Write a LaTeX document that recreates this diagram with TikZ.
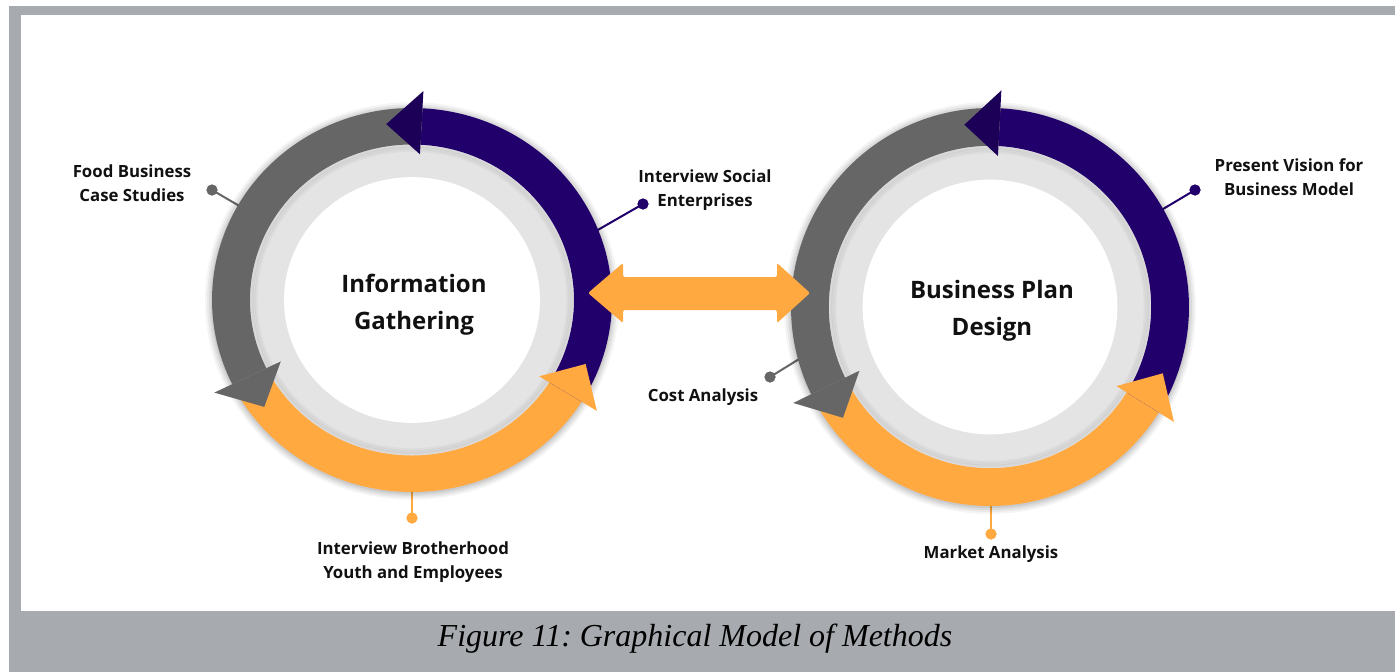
\documentclass[tikz,border=0pt]{standalone}
\usepackage{fontspec}
\setmainfont{Open Sans}
\newfontfamily\capfont{Liberation Serif}
\definecolor{framegray}{HTML}{A7AAAE}
\definecolor{pur}{HTML}{22006B}
\definecolor{purh}{HTML}{1C0058}
\definecolor{gry}{HTML}{666666}
\definecolor{org}{HTML}{FFA940}
\definecolor{lgray}{HTML}{E4E4E4}
\definecolor{txt}{HTML}{111111}
\frenchspacing
\newcommand\mycycle[4]{%
\begin{scope}[shift={(#1,#2)}, x=#3pt, y=#4pt]
  \foreach \k/\o in {1.035/0.04,1.025/0.05,1.015/0.06,1.005/0.07}
    \fill[black,opacity=\o] (0,-0.005) circle[x radius=\k*#3 pt, y radius=\k*#4 pt];
  \fill[lgray] (0,0) circle[x radius=0.82*#3 pt, y radius=0.82*#4 pt];
  \foreach \k/\o in {0.80/0.05,0.79/0.04,0.78/0.03}
    \draw[black,opacity=\o,line width=3pt] (0,0) circle[x radius=\k*#3 pt, y radius=\k*#4 pt];
  \fill[white] (0,0) circle[x radius=0.64*#3 pt, y radius=0.64*#4 pt];
  \fill[org] plot[domain=206:328,samples=70] (\x:1) -- plot[domain=328:206,samples=70] (\x:0.81) -- cycle;
  \fill[pur] plot[domain=-32:87,samples=70] (\x:1) -- plot[domain=87:-32,samples=70] (\x:0.81) -- cycle;
  \fill[gry] plot[domain=87:206,samples=70] (\x:1) -- plot[domain=206:87,samples=70] (\x:0.81) -- cycle;
  \fill[purh] (87:0.76) -- (87:1.09) -- (98:0.925) -- cycle;
  \fill[gry] (206:0.73) -- (206:1.10) -- (217:0.925) -- cycle;
  \fill[org] (328:0.75) -- (328:1.09) -- (339:0.93) -- cycle;
\end{scope}}
\tikzset{
  lbl/.style={text=txt, align=center, font=\bfseries\fontsize{16.8}{24}\selectfont, inner sep=0pt},
  ttl/.style={text=txt, align=center, font=\bfseries\fontsize{24}{37}\selectfont, inner sep=0pt},
  dot/.style={circle, fill=#1, inner sep=0pt, minimum size=11pt},
  conn/.style={draw=#1, line width=2pt}
}
\begin{document}
\begin{tikzpicture}[x=1pt,y=-1pt]
\useasboundingbox (0,0) rectangle (1395,672);
\fill[white] (0,0) rectangle (1395,672);
\fill[framegray] (9,6) rectangle (1395,672);
\fill[white] (21,15) rectangle (1395,611);
% connectors behind rings
\node[dot=gry] (d1) at (212,190) {};
\coordinate (e1) at (248,211);
\node[dot=pur] (d2) at (643,204) {};
\coordinate (e2) at (596,231);
\node[dot=org] (d3) at (412,518) {};
\coordinate (e3) at (412,486);
\node[dot=pur] (d4) at (1195,190) {};
\coordinate (e4) at (1158,212);
\node[dot=gry] (d5) at (770,377) {};
\coordinate (e5) at (804,356);
\node[dot=org] (d6) at (991,534) {};
\coordinate (e6) at (991,501);
\draw[conn=gry] (d1.center) -- (e1);
\draw[conn=pur] (d2.center) -- (e2);
\draw[conn=org] (d3.center) -- (e3);
\draw[conn=pur] (d4.center) -- (e4);
\draw[conn=gry] (d5.center) -- (e5);
\draw[conn=org] (d6.center) -- (e6);
\mycycle{412}{300}{200}{192}
\mycycle{990}{307}{199}{199}
\node[dot=gry] at (d1) {};
\node[dot=pur] at (d2) {};
\node[dot=org] at (d3) {};
\node[dot=pur] at (d4) {};
\node[dot=gry] at (d5) {};
\node[dot=org] at (d6) {};
% double arrow
\coordinate (la) at (588,293);
\coordinate (ra) at (810,293);
\fill[org, rounded corners=2pt] (la) -- (623,263) -- (623,277) -- (777,277) -- (777,263) -- (ra) -- (777,323) -- (777,310) -- (623,310) -- (623,323) -- cycle;
% titles
\node[ttl] (t1) at (414,305) {Information\\Gathering};
\node[ttl] (t2) at (992,311) {Business Plan\\Design};
% labels
\node[lbl] (l1) at (132,183) {Food Business\\Case Studies};
\node[lbl] (l2) at (705,190) {Interview Social\\Enterprises};
\node[lbl] (l3) at (413,562) {Interview Brotherhood\\Youth and Employees};
\node[lbl] (l4) at (1289,177) {Present Vision for\\Business Model};
\node[lbl] (l5) at (703,397) {Cost Analysis};
\node[lbl] (l6) at (991,554) {Market Analysis};
\node[inner sep=0pt, font=\capfont\itshape\fontsize{32}{38}\selectfont] (cap) at (695,639) {Figure 11: Graphical Model of Methods};
\end{tikzpicture}
\end{document}
